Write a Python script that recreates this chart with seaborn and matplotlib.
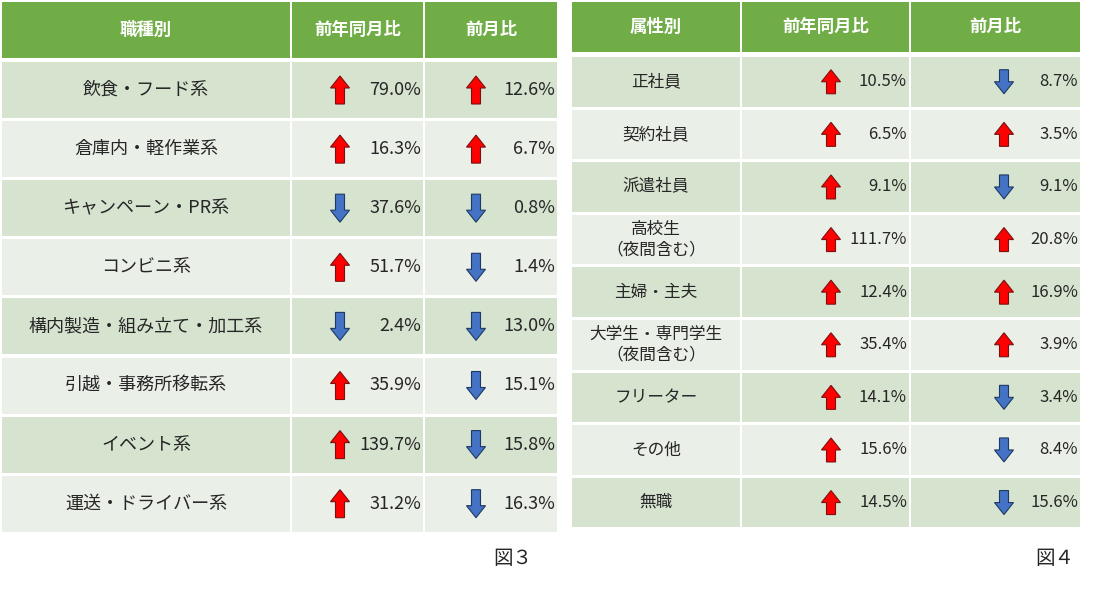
import matplotlib.pyplot as plt
import matplotlib.patches as mpatches
import seaborn as sns

sns.set_style("white")
plt.rcParams["font.family"] = "Noto Sans CJK JP"

# 図3 data (sign = direction of arrow)
jobs = ["飲食・フード系", "倉庫内・軽作業系", "キャンペーン・PR系", "コンビニ系",
        "構内製造・組み立て・加工系", "引越・事務所移転系", "イベント系", "運送・ドライバー系"]
jobs_yoy = [79.0, 16.3, -37.6, 51.7, -2.4, 35.9, 139.7, 31.2]
jobs_mom = [12.6, 6.7, -0.8, -1.4, -13.0, -15.1, -15.8, -16.3]

# 図4 data
attrs = ["正社員", "契約社員", "派遣社員", "高校生\n（夜間含む）", "主婦・主夫",
         "大学生・専門学生\n（夜間含む）", "フリーター", "その他", "無職"]
attrs_yoy = [10.5, 6.5, 9.1, 111.7, 12.4, 35.4, 14.1, 15.6, 14.5]
attrs_mom = [-8.7, 3.5, -9.1, 20.8, 16.9, 3.9, -3.4, -8.4, -15.6]

HEAD = "#70ad47"
DARK = "#d5e3cf"
LIGHT = "#eaefe8"

fig = plt.figure(figsize=(11, 5.89), dpi=100)
ax = fig.add_axes([0, 0, 1, 1])
ax.set_xlim(0, 1100)
ax.set_ylim(589, 0)
ax.axis("off")


def arrow(cx, cy, up, h=26):
    bw, hw, hh = 4.5, 9.5, 12
    s = -1 if up else 1
    tip = cy + s * h / 2
    base = cy - s * h / 2
    neck = tip - s * hh
    pts = [(cx - bw, base), (cx + bw, base), (cx + bw, neck), (cx + hw, neck),
           (cx, tip), (cx - hw, neck), (cx - bw, neck)]
    if up:
        fc, ec = "#ff0000", "#7a1010"
    else:
        fc, ec = "#4472c4", "#1f3864"
    ax.add_patch(mpatches.Polygon(pts, closed=True, fc=fc, ec=ec, lw=0.8))


def table(cols, head_h, top, row_h, gap, labels, yoy, mom, headers, fs, arr_off, h_arr):
    for (x0, x1), t in zip(cols, headers):
        ax.add_patch(mpatches.Rectangle((x0, 2), x1 - x0, head_h, fc=HEAD, ec="none"))
        ax.text((x0 + x1) / 2, 2 + head_h / 2, t, color="white", fontsize=12.5,
                fontweight="bold", ha="center", va="center")
    for i, lab in enumerate(labels):
        y0 = top + i * (row_h + gap)
        fc = DARK if i % 2 == 0 else LIGHT
        for x0, x1 in cols:
            ax.add_patch(mpatches.Rectangle((x0, y0), x1 - x0, row_h, fc=fc, ec="none"))
        cy = y0 + row_h / 2
        ax.text((cols[0][0] + cols[0][1]) / 2, cy, lab, fontsize=fs, ha="center",
                va="center", linespacing=1.3)
        for (x0, x1), v, off in zip(cols[1:], (yoy[i], mom[i]), arr_off):
            arrow(x0 + off, cy, v > 0, h_arr)
            ax.text(x1 - 2, cy, f"{abs(v):.1f}%", fontsize=fs, ha="right", va="center")


table([(2, 290), (292, 423), (425, 557)], 56, 62, 56, 3.1,
      jobs, jobs_yoy, jobs_mom, ["職種別", "前年同月比", "前月比"], 13, (48, 51), 28)
table([(572, 740), (742, 909), (911, 1080)], 50, 57, 49.5, 3.1,
      attrs, attrs_yoy, attrs_mom, ["属性別", "前年同月比", "前月比"], 12, (89, 93), 24)

ax.text(513, 558, "図３", fontsize=14, ha="center", va="center")
ax.text(1055, 558, "図４", fontsize=14, ha="center", va="center")

fig.savefig("out.png", dpi=100)
